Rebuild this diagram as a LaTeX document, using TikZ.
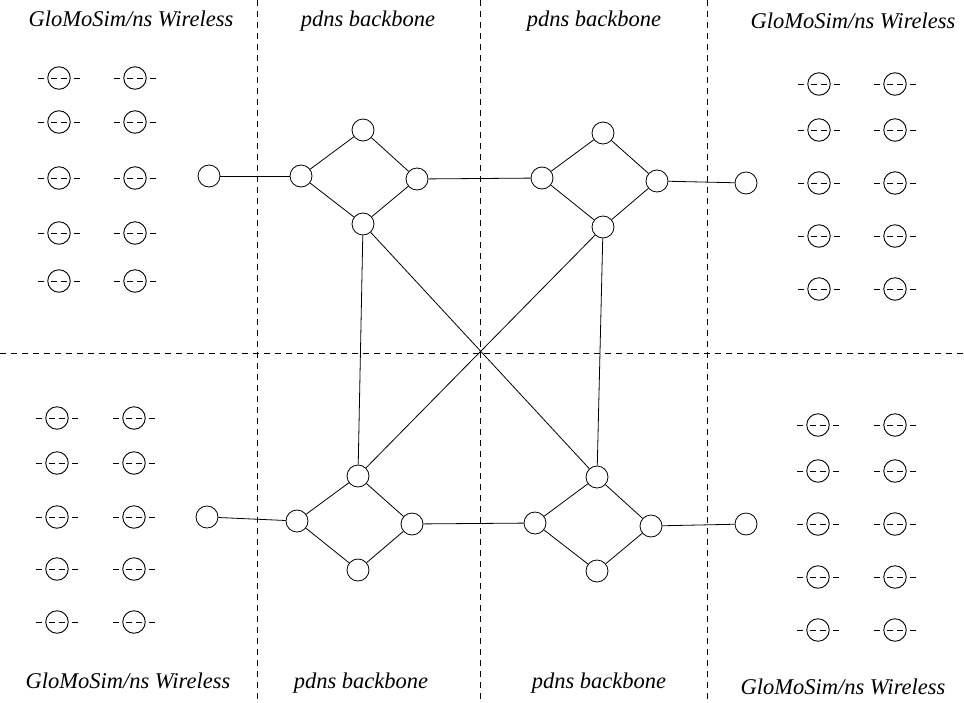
\documentclass[tikz,border=0pt]{standalone}
\usepackage{fontspec}
\setmainfont{Liberation Serif}
\begin{document}
\begin{tikzpicture}[x=1pt,y=-1pt,
  router/.style={draw,circle,fill=white,minimum size=22pt,inner sep=0pt,line width=0.8pt},
  mobile/.style={draw,circle,minimum size=22.5pt,inner sep=0pt,line width=0.9pt},
  radio/.style={line width=0.8pt,dash pattern=on 6pt off 7pt on 6pt off 4pt on 6pt off 7pt on 6pt off 100pt},
  divider/.style={line width=0.8pt,dash pattern=on 6pt off 5pt},
  link/.style={line width=0.8pt},
  region/.style={font=\fontsize{22.5}{27}\selectfont\itshape,anchor=base,inner sep=0pt}]
\useasboundingbox (0,0) rectangle (964,702);

% region dividers
\draw[divider] (0,353) -- (964,353);
\foreach \x in {257,480,707} \draw[divider] (\x,0) -- (\x,702);

% region titles
\node[region] (tlw) at (131,26) {GloMoSim/ns Wireless};
\node[region] (tlb) at (368,26) {pdns backbone};
\node[region] (trb) at (594,26) {pdns backbone};
\node[region] (trw) at (853,28) {GloMoSim/ns Wireless};
\node[region] (blw) at (128,688) {GloMoSim/ns Wireless};
\node[region] (blb) at (361,688) {pdns backbone};
\node[region] (brb) at (599,688) {pdns backbone};
\node[region] (brw) at (843,694) {GloMoSim/ns Wireless};

% wireless hosts: circle on a dashed radio line
\foreach \g/\xa/\xb/\ys in {
    tl/59/135/{78,122,178,233,281},
    tr/819/895/{84,130,183,236,289},
    bl/57/134/{418,463,517,569,622},
    br/818/895/{425,471,524,577,630}} {
  \foreach \y [count=\r] in \ys {
    \foreach \x [count=\c] in {\xa,\xb} {
      \draw[radio] (\x-21,\y) -- (\x+21,\y);
      \node[mobile] (\g-\r-\c) at (\x,\y) {};
    }
  }
}

% backbone routers
\node[router] (a0) at (209,176) {};
\node[router] (aL) at (301,176) {};
\node[router] (aT) at (363,130) {};
\node[router] (aR) at (417,179) {};
\node[router] (aB) at (363,224) {};

\node[router] (b0) at (746,183) {};
\node[router] (bL) at (542,178) {};
\node[router] (bT) at (603,133) {};
\node[router] (bR) at (657,181) {};
\node[router] (bB) at (603,227) {};

\node[router] (c0) at (207,517) {};
\node[router] (cL) at (297,521) {};
\node[router] (cT) at (358,476) {};
\node[router] (cR) at (412,524) {};
\node[router] (cB) at (358,570) {};

\node[router] (d0) at (746,524) {};
\node[router] (dL) at (535,523) {};
\node[router] (dT) at (597,477) {};
\node[router] (dR) at (651,526) {};
\node[router] (dB) at (597,571) {};

% links
\foreach \n in {a,b,c,d} {
  \draw[link] (\n L) -- (\n T) -- (\n R) -- (\n B) -- (\n L);
}
\draw[link] (a0) -- (aL);
\draw[link] (b0) -- (bR);
\draw[link] (c0) -- (cL);
\draw[link] (d0) -- (dR);
\draw[link] (aR) -- (bL);
\draw[link] (cR) -- (dL);
\draw[link] (aB) -- (cT);
\draw[link] (bB) -- (dT);
\draw[link] (aB) -- (dT);
\draw[link] (bB) -- (cT);
\end{tikzpicture}
\end{document}
